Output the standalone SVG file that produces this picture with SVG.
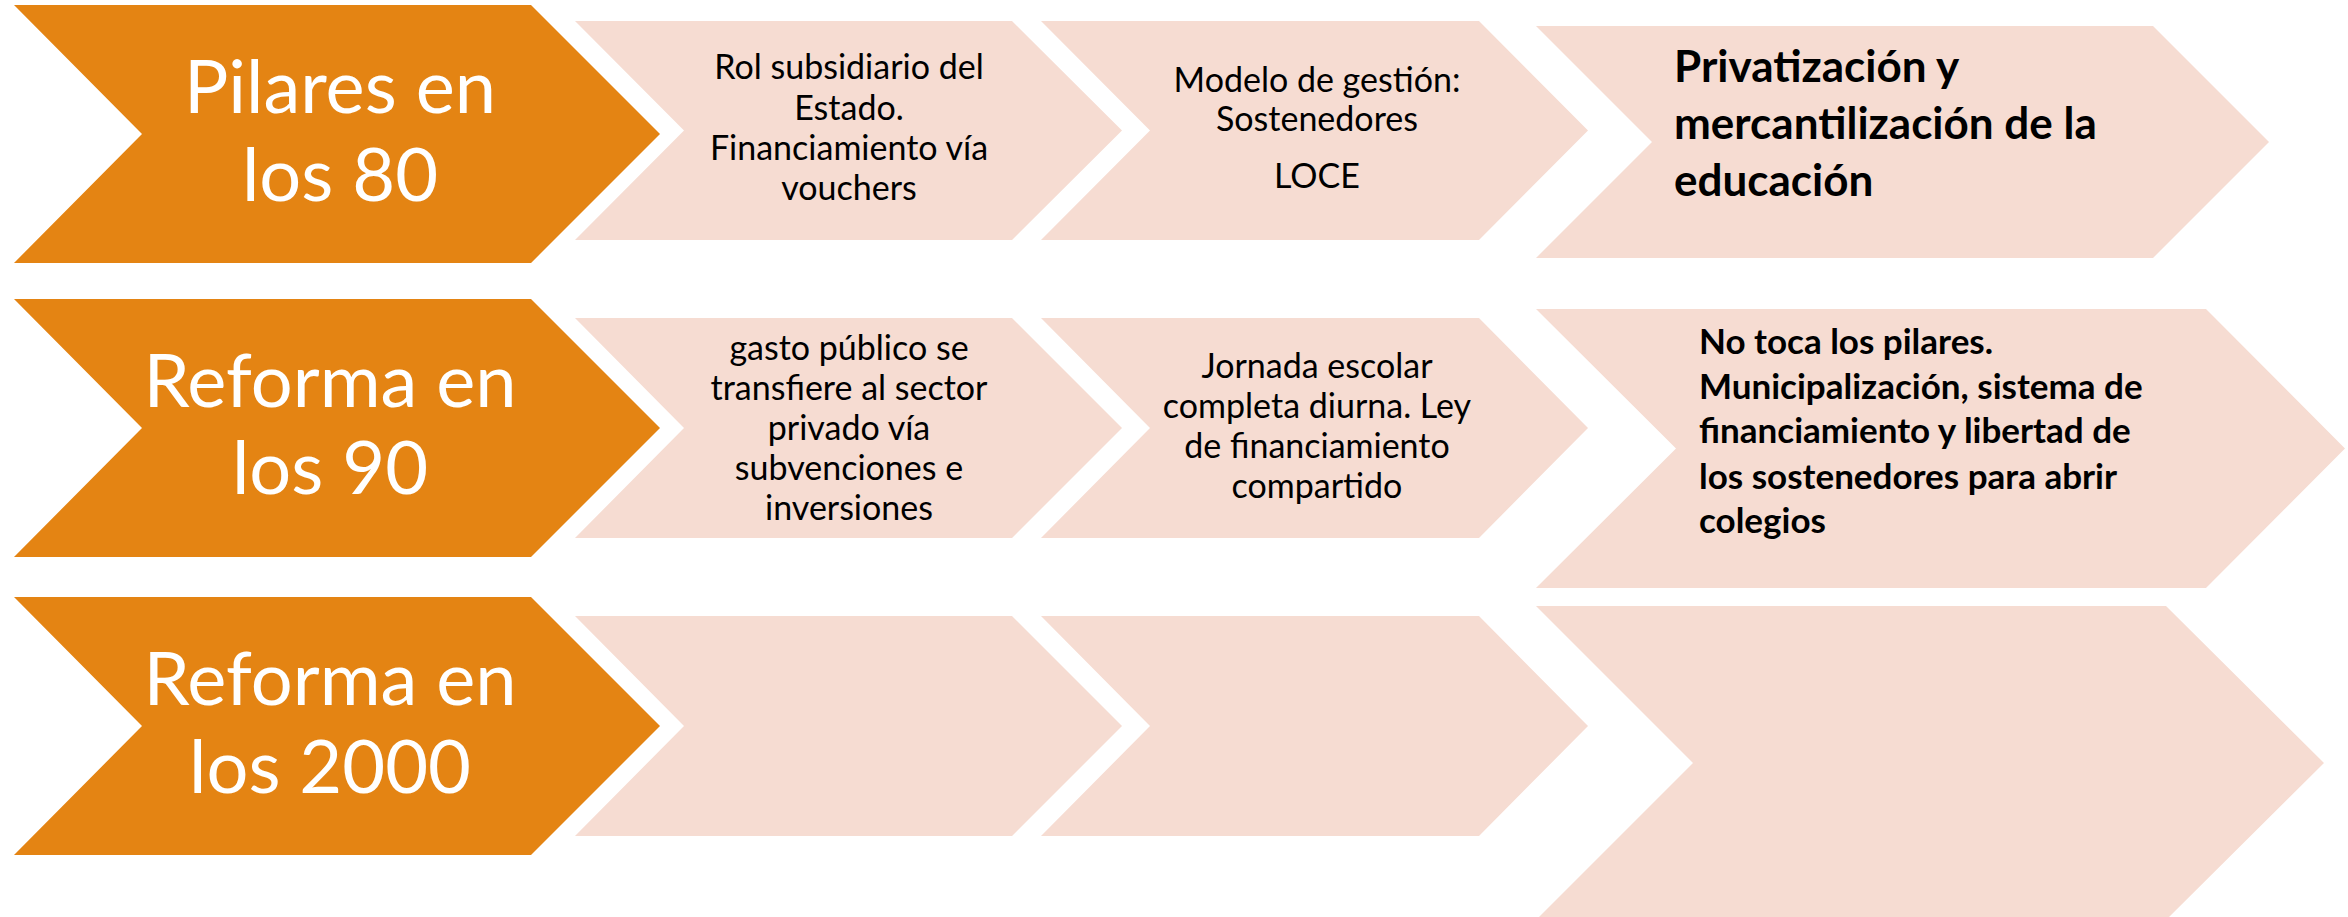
<svg xmlns="http://www.w3.org/2000/svg" width="2348" height="917" viewBox="0 0 2348 917">
<style>
.org{fill:#E48413}
.pk{fill:#F6DCD2}
.lbl{font-family:Lato,"Liberation Sans",sans-serif;font-size:74px;fill:#FFFFFF;text-anchor:middle}
.body{font-family:Lato,"Liberation Sans",sans-serif;font-size:34px;fill:#000000;text-anchor:middle}
.b1{font-family:Lato,"Liberation Sans",sans-serif;font-size:44px;font-weight:bold;fill:#000000}
.b2{font-family:Lato,"Liberation Sans",sans-serif;font-size:35px;font-weight:bold;fill:#000000}
</style>
<rect width="2348" height="917" fill="#FFFFFF"/>
<g id="connectors"/>
<g id="row1-label">
<polygon class="org" points="14,5 531,5 660,134 531,263 14,263 142,134"/>
<text class="lbl" x="340" y="113">Pilares en</text>
<text class="lbl" x="340" y="201">los 80</text>
</g>
<g id="row1-step1">
<polygon class="pk" points="575,21 1012,21 1122,130.5 1012,240 575,240 684,130.5"/>
<text class="body" x="849" y="79">Rol subsidiario del</text>
<text class="body" x="849" y="120">Estado.</text>
<text class="body" x="849" y="160">Financiamiento vía</text>
<text class="body" x="849" y="200">vouchers</text>
</g>
<g id="row1-step2">
<polygon class="pk" points="1041,21 1479,21 1588,130.5 1479,240 1041,240 1150,130.5"/>
<text class="body" x="1317" y="92">Modelo de gestión:</text>
<text class="body" x="1317" y="131">Sostenedores</text>
<text class="body" x="1317" y="188">LOCE</text>
</g>
<g id="row1-result">
<polygon class="pk" points="1536,26 2153,26 2269,142 2153,258 1536,258 1652,142"/>
<text class="b1" x="1674" y="82">Privatización y</text>
<text class="b1" x="1674" y="139">mercantilización de la</text>
<text class="b1" x="1674" y="196">educación</text>
</g>
<g id="row2-label">
<polygon class="org" points="14,299 531,299 660,428 531,557 14,557 142,428"/>
<text class="lbl" x="330" y="407">Reforma en</text>
<text class="lbl" x="330" y="494">los 90</text>
</g>
<g id="row2-step1">
<polygon class="pk" points="575,318 1012,318 1122,428 1012,538 575,538 684,428"/>
<text class="body" x="849" y="360">gasto público se</text>
<text class="body" x="849" y="400">transfiere al sector</text>
<text class="body" x="849" y="440">privado vía</text>
<text class="body" x="849" y="480">subvenciones e</text>
<text class="body" x="849" y="520">inversiones</text>
</g>
<g id="row2-step2">
<polygon class="pk" points="1041,318 1479,318 1588,428 1479,538 1041,538 1150,428"/>
<text class="body" x="1317" y="378">Jornada escolar</text>
<text class="body" x="1317" y="418">completa diurna. Ley</text>
<text class="body" x="1317" y="458">de financiamiento</text>
<text class="body" x="1317" y="498">compartido</text>
</g>
<g id="row2-result">
<polygon class="pk" points="1536,309 2206,309 2345,448.5 2206,588 1536,588 1676,448.5"/>
<text class="b2" x="1699" y="354">No toca los pilares.</text>
<text class="b2" x="1699" y="399">Municipalización, sistema de</text>
<text class="b2" x="1699" y="443">financiamiento y libertad de</text>
<text class="b2" x="1699" y="489">los sostenedores para abrir</text>
<text class="b2" x="1699" y="533">colegios</text>
</g>
<g id="row3-label">
<polygon class="org" points="14,597 531,597 660,726 531,855 14,855 142,726"/>
<text class="lbl" x="330" y="705">Reforma en</text>
<text class="lbl" x="330" y="793">los 2000</text>
</g>
<g id="row3-step1">
<polygon class="pk" points="575,616 1012,616 1122,726 1012,836 575,836 684,726"/>
</g>
<g id="row3-step2">
<polygon class="pk" points="1041,616 1479,616 1588,726 1479,836 1041,836 1150,726"/>
</g>
<g id="row3-result">
<polygon class="pk" points="1536,606 2166,606 2324,763 2166,920 1536,920 1693,763"/>
</g>
</svg>
